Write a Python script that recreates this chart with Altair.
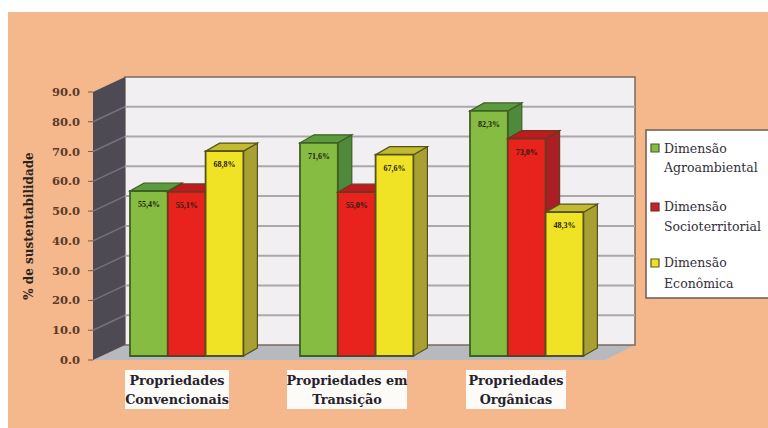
import altair as alt
import pandas as pd

# Chart values
category_lines = [["Propriedades", "Convencionais"], ["Propriedades em", "Transição"], ["Propriedades", "Orgânicas"]]
agroambiental = [55.4, 71.6, 82.3]
socioterritorial = [55.1, 55.0, 73.0]
economica = [68.8, 67.6, 48.3]
series_names = [["Dimensão", "Agroambiental"], ["Dimensão", "Socioterritorial"], ["Dimensão", "Econômica"]]
axis_ticks = [0, 10, 20, 30, 40, 50, 60, 70, 80, 90]

# Drawing geometry: the canvas is used as a 768 x 428 coordinate system
W, H = 768, 428
K = 2.978            # pixels per percentage point
Y0 = 360             # pixel row of 0.0 on the axis


def lvl(py):
    """Scale value sitting at a given pixel row."""
    return (Y0 - py) / K


WALL_L, WALL_R, FRONT_L, FRONT_R = 125, 635, 93, 605
DEPTH = lvl(345)     # rise of the back wall above the front edge
BAR_LIFT = lvl(356)  # bars stand slightly inside the floor
BAR_W, SIDE_DX, SIDE_DY = 37.8, 14, lvl(352)
GROUP_X = [130, 300, 470]

x_s = alt.Scale(domain=[0, W], range=[0, W], nice=False, zero=False)
y_s = alt.Scale(domain=[lvl(H), lvl(0)], range=[H, 0], nice=False, zero=False)


def X(f="x"):
    return alt.X(f"{f}:Q", scale=x_s, axis=None)


def Y(f="y"):
    return alt.Y(f"{f}:Q", scale=y_s, axis=None, title=None)


def rect(rows, fill, stroke=None, sw=0):
    kw = dict(fill=fill)
    if stroke:
        kw.update(stroke=stroke, strokeWidth=sw)
    return alt.Chart(pd.DataFrame(rows)).mark_rect(**kw).encode(
        x=X("x0"), x2="x1:Q", y=Y("y0"), y2="y1:Q")


def poly(rows, fill, edge=None):
    kw = dict(color=fill, orient="vertical")
    if edge:
        kw.update(stroke=edge, strokeWidth=1.2)
    return alt.Chart(pd.DataFrame(rows)).mark_area(**kw).encode(
        x=X(), y=Y("lo"), y2="hi:Q", detail="id:N")


def text(rows, size, font="DejaVu Serif", weight="normal", color="#222222", align="center", angle=0):
    return alt.Chart(pd.DataFrame(rows)).mark_text(
        font=font, fontSize=size, fontWeight=weight, color=color, align=align,
        baseline="middle", angle=angle).encode(x=X(), y=Y(), text="t:N")


layers = []

# Page background and chart backdrop
layers.append(rect([dict(x0=8, x1=W, y0=lvl(H), y1=lvl(12))], "#f4b88c"))

# Floor
d = DEPTH
layers.append(poly([
    dict(id=0, x=FRONT_L, lo=0, hi=0),
    dict(id=0, x=WALL_L, lo=0, hi=d),
    dict(id=0, x=FRONT_R, lo=0, hi=d),
    dict(id=0, x=WALL_R, lo=d, hi=d),
], "#b6b9be"))

# Back wall and its gridlines
layers.append(rect([dict(x0=WALL_L, x1=WALL_R, y0=d, y1=90 + d)], "#f1eff1", "#7b6a60", 1.5))
layers.append(alt.Chart(pd.DataFrame({"v": axis_ticks[1:-1], "x0": WALL_L, "x1": WALL_R})
                        .assign(y=lambda t: t.v + d)).mark_rule(color="#aaa8aa", strokeWidth=2).encode(
    x=X("x0"), x2="x1:Q", y=Y()))

# Left wall with its receding gridlines
layers.append(poly([
    dict(id=0, x=FRONT_L, lo=0, hi=90),
    dict(id=0, x=WALL_L, lo=d, hi=90 + d),
], "#4e4a54"))
wall_lines = []
for v in axis_ticks[1:-1]:
    wall_lines += [dict(id=v, o=0, x=FRONT_L, y=v), dict(id=v, o=1, x=WALL_L, y=v + d)]
layers.append(alt.Chart(pd.DataFrame(wall_lines)).mark_line(color="#76727c", strokeWidth=1.5).encode(
    x=X(), y=Y(), detail="id:N", order="o:Q"))

# Value axis: ticks and labels at the front edge of the left wall
layers.append(alt.Chart(pd.DataFrame({"y": axis_ticks, "x0": FRONT_L - 5, "x1": FRONT_L})).mark_rule(
    color="#7a5a48", strokeWidth=1).encode(x=X("x0"), x2="x1:Q", y=Y()))
layers.append(text([dict(x=80, y=v - 1 / K, t=f"{v:.1f}") for v in axis_ticks], 11.5,
                   weight="bold", color="#5c3a2a", align="right"))

# Bars: side, top and front faces, painted from left to right
palette = [
    (agroambiental, 0, "#86bc42", "#4f8a3c", "#5c9a3e", "#3f5f24"),
    (socioterritorial, 1, "#e8221c", "#ac1e26", "#bf1a20", "#6a3a1c"),
    (economica, 2, "#f0e224", "#a8a032", "#c2ba30", "#55521c"),
]
for values, pos, front, side, top, edge in palette:
    s_rows, t_rows, f_rows, l_rows = [], [], [], []
    for g, v in enumerate(values):
        x0 = GROUP_X[g] + pos * BAR_W
        x1 = x0 + BAR_W
        up = v + BAR_LIFT
        low = BAR_LIFT
        s_rows += [dict(id=g, x=x1, lo=low, hi=up),
                   dict(id=g, x=x1 + SIDE_DX, lo=low + SIDE_DY, hi=up + SIDE_DY)]
        t_rows += [dict(id=g, x=x0, lo=up, hi=up),
                   dict(id=g, x=x0 + SIDE_DX, lo=up, hi=up + SIDE_DY),
                   dict(id=g, x=x1, lo=up, hi=up + SIDE_DY),
                   dict(id=g, x=x1 + SIDE_DX, lo=up + SIDE_DY, hi=up + SIDE_DY)]
        f_rows.append(dict(x0=x0, x1=x1, y0=low, y1=up))
        l_rows.append(dict(x=(x0 + x1) / 2, y=up - 14 / K, t=f"{v:.1f}%".replace(".", ",")))
    layers.append(poly(s_rows, side, edge))
    layers.append(poly(t_rows, top, edge))
    layers.append(rect(f_rows, front, edge, 1.8))
    layers.append(text(l_rows, 8, font="Liberation Serif", weight="bold", color="#1c1c10"))

# Axis title
layers.append(text([dict(x=29, y=lvl(226), t="% de sustentabilidade")], 12,
                    weight="bold", color="#2a2420", angle=270))

# Category labels on white plates
plates = [(125, 229), (287, 407), (466, 566)]
layers.append(rect([dict(x0=a, x1=b, y0=lvl(409), y1=lvl(370)) for a, b in plates], "#fdfbf8"))
cat_rows = []
for cx, lines in zip([177, 347, 516], category_lines):
    for py, line in zip([381, 400], lines):
        cat_rows.append(dict(x=cx, y=lvl(py), t=line))
layers.append(text(cat_rows, 12.8, weight="bold", color="#26222c"))

# Legend
layers.append(rect([dict(x0=646, x1=W + 4, y0=lvl(298), y1=lvl(130))], "#ffffff", "#6e5c50", 1.5))
marks = [("#86bc42", "#44602c", 148), ("#c8202c", "#6a2a2a", 207), ("#ece22a", "#5c5a20", 263)]
for col, edge, py in marks:
    layers.append(rect([dict(x0=651, x1=659, y0=lvl(py + 4), y1=lvl(py - 4))], col, edge, 1.2))
leg_rows = []
for lines, rows_y in zip(series_names, [(149, 168), (207, 227), (263, 284)]):
    for py, line in zip(rows_y, lines):
        leg_rows.append(dict(x=664, y=lvl(py), t=line))
layers.append(text(leg_rows, 12.5, align="left", color="#33303a"))

chart = alt.layer(*layers).properties(
    width=W, height=H, padding=0, background="#ffffff",
    autosize=alt.AutoSizeParams(type="none"),
).configure_view(stroke=None)

chart.save("out.html", embed_options={"renderer": "svg", "actions": False})
